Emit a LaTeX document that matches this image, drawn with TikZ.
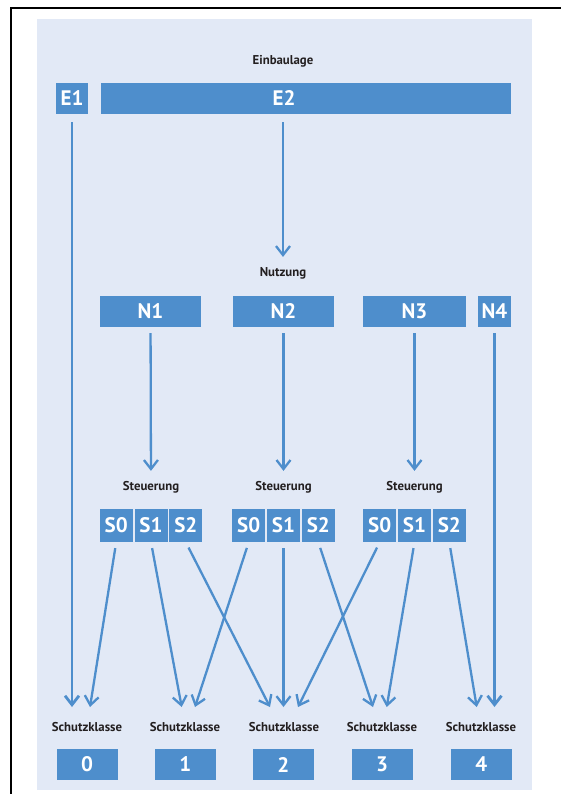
\documentclass[tikz,border=0pt]{standalone}
\usepackage{fontspec}
\setmainfont{PT Sans}
\usetikzlibrary{arrows.meta}
\definecolor{boxblue}{RGB}{78,142,204}
\definecolor{panelblue}{RGB}{226,233,246}
\definecolor{labelgray}{RGB}{35,31,32}

\begin{document}
\begin{tikzpicture}[x=1pt,y=-1pt,
        every node/.style={inner sep=0pt},
        boxfont/.style={text=white,font=\bfseries\fontsize{21}{21}\selectfont},
        box/.style={fill=boxblue,boxfont,minimum height=31pt},
        sbox/.style={box,minimum width=33pt,minimum height=33pt},
        kbox/.style={box,minimum width=61pt},
        lbl/.style={text=labelgray,font=\bfseries\fontsize{12.8}{13}\selectfont},
        arr/.style={draw=boxblue,line width=2.3pt,-{Straight Barb[length=9pt,width=14pt]},shorten <=6pt},
        tolbl/.style={arr,shorten >=10pt},
        longarr/.style={arr,line width=2.8pt}]
    \useasboundingbox (0,0) rectangle (560,794);
    \fill[panelblue] (37,19) rectangle (532,790);
    \draw[line width=2pt] (11,800) -- (11,8) -- (566,8);

    \node[lbl] (ein) at (283,61) {Einbaulage};
    \node[box,minimum width=32pt] (e1) at (72,98.5) {E1};
    \node[box,minimum width=410pt,label={[boxfont,xshift=-22pt]center:E2}] (e2) at (306,98.5) {};

    \node[lbl] (nutz) at (283,273) {Nutzung};
    \node[box,minimum width=101pt] (n1) at (150.5,311.5) {N1};
    \node[box,minimum width=101pt] (n2) at (283.5,311.5) {N2};
    \node[box,minimum width=103pt] (n3) at (414.5,311.5) {N3};
    \node[box,minimum width=33pt] (n4) at (494.5,311.5) {N4};

    \node[lbl] (st1) at (151,487) {Steuerung};
    \node[lbl] (st2) at (283.5,487) {Steuerung};
    \node[lbl] (st3) at (414.5,487) {Steuerung};

    \node[sbox] (s10) at (116.2,525.5) {S0};
    \node[sbox] (s11) at (151,525.5) {S1};
    \node[sbox] (s12) at (185.8,525.5) {S2};
    \node[sbox] (s20) at (248.7,525.5) {S0};
    \node[sbox] (s21) at (283.5,525.5) {S1};
    \node[sbox] (s22) at (318.3,525.5) {S2};
    \node[sbox] (s30) at (379.7,525.5) {S0};
    \node[sbox] (s31) at (414.5,525.5) {S1};
    \node[sbox] (s32) at (449.3,525.5) {S2};

    \coordinate (t0a) at (72,707);
    \coordinate (t0b) at (90,707);
    \coordinate (t1a) at (181.7,707);
    \coordinate (t1b) at (195,707);
    \coordinate (t2a) at (270,707);
    \coordinate (t2b) at (283.5,707);
    \coordinate (t2c) at (298,707);
    \coordinate (t3a) at (373,707);
    \coordinate (t3b) at (386.7,707);
    \coordinate (t4a) at (476.7,707);
    \coordinate (t4b) at (494.5,707);

    \node[lbl] (sk0) at (87,727.5) {Schutzklasse};
    \node[lbl] (sk1) at (185,727.5) {Schutzklasse};
    \node[lbl] (sk2) at (284,727.5) {Schutzklasse};
    \node[lbl] (sk3) at (382,727.5) {Schutzklasse};
    \node[lbl] (sk4) at (481,727.5) {Schutzklasse};

    \node[kbox] (k0) at (87,764.5) {0};
    \node[kbox] (k1) at (185.3,764.5) {1};
    \node[kbox] (k2) at (283.3,764.5) {2};
    \node[kbox] (k3) at (382,764.5) {3};
    \node[kbox] (k4) at (481.2,764.5) {4};

    \draw[longarr,shorten <=8pt] (e1) -- (t0a);
    \draw[tolbl,shorten <=8pt] (e2.south -| nutz) -- (nutz);
    \draw[tolbl] (n1) -- (st1);
    \draw[tolbl] (n2) -- (st2);
    \draw[tolbl] (n3) -- (st3);
    \draw[longarr] (n4) -- (t4b);

    \draw[arr] (s10.south) -- (t0b);
    \draw[arr] (s11.south) -- (t1a);
    \draw[arr] (s12.south) -- (t2a);
    \draw[arr] (s20.south) -- (t1b);
    \draw[arr] (s21.south) -- (t2b);
    \draw[arr] (s22.south) -- (t3a);
    \draw[arr] (s30.south) -- (t2c);
    \draw[arr] (s31.south) -- (t3b);
    \draw[arr] (s32.south) -- (t4a);
\end{tikzpicture}
\end{document}
